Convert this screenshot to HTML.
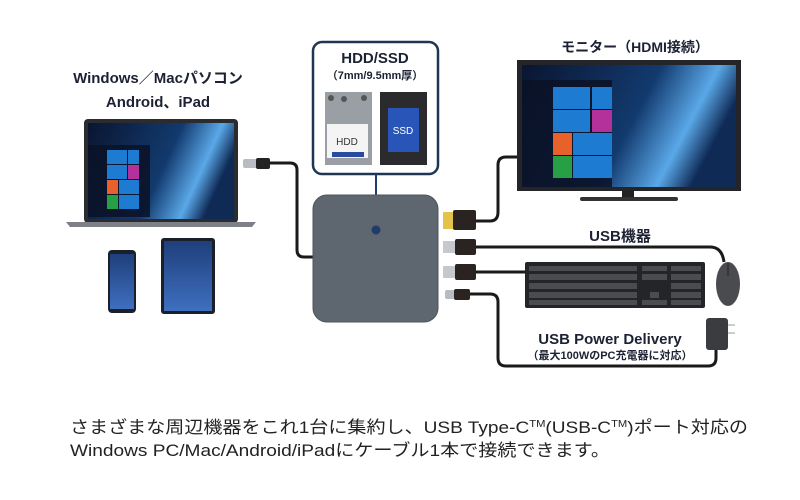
<!DOCTYPE html>
<html><head><meta charset="utf-8"><style>
html,body{margin:0;padding:0;background:#fff;width:800px;height:500px;overflow:hidden}
svg{display:block}
text{font-family:"Liberation Sans","Noto Sans CJK JP",sans-serif}
</style></head><body>
<svg width="800" height="500" viewBox="0 0 800 500" xmlns="http://www.w3.org/2000/svg">
<defs>
<linearGradient id="scr" x1="0" y1="0" x2="1" y2="0.3">
<stop offset="0" stop-color="#0a1530"/><stop offset="0.6" stop-color="#123a6e"/><stop offset="0.85" stop-color="#5aa8e8"/><stop offset="1" stop-color="#0f2a55"/>
</linearGradient>
<linearGradient id="tab" x1="0" y1="0" x2="0" y2="1"><stop offset="0" stop-color="#1e3f7a"/><stop offset="1" stop-color="#3f6fc0"/></linearGradient>
</defs>
<!-- left labels -->
<text x="158" y="83" font-size="15" font-weight="bold" fill="#1c2233" text-anchor="middle">Windows／Macパソコン</text>
<text x="158" y="107" font-size="15" font-weight="bold" fill="#1c2233" text-anchor="middle">Android、iPad</text>
<!-- laptop -->
<rect x="84" y="119" width="154" height="104" rx="4" fill="#2a2c30"/>
<rect x="88" y="123" width="146" height="96" fill="url(#scr)"/>
<rect x="88" y="145" width="62" height="72" fill="#0b1226" opacity="0.85"/>
<g>
<rect x="107" y="150" width="20" height="14" fill="#1e7bd2"/><rect x="128" y="150" width="11" height="14" fill="#1e7bd2"/>
<rect x="107" y="165" width="20" height="14" fill="#1e7bd2"/><rect x="128" y="165" width="11" height="14" fill="#b4309a"/>
<rect x="107" y="180" width="11" height="14" fill="#e8602a"/><rect x="119" y="180" width="20" height="14" fill="#1e7bd2"/>
<rect x="107" y="195" width="11" height="14" fill="#27a045"/><rect x="119" y="195" width="20" height="14" fill="#1e7bd2"/>
</g>
<path d="M66 222 H256 L252 227 H70 Z" fill="#7d8087"/>
<!-- phone & tablet -->
<rect x="108" y="250" width="28" height="63" rx="4" fill="#1b1f2a"/>
<rect x="110" y="254" width="24" height="55" fill="url(#tab)"/>
<rect x="161" y="238" width="54" height="76" rx="3" fill="#1b1f2a"/>
<rect x="164" y="241" width="48" height="70" fill="url(#tab)"/>
<!-- laptop cable -->
<rect x="243" y="159" width="14" height="9" rx="2" fill="#b8bcc2"/>
<rect x="256" y="158" width="14" height="11" rx="2" fill="#222"/>
<path d="M270 163 H290 Q297 163 297 170 V250 Q297 257 304 257 H314" fill="none" stroke="#1a1a1a" stroke-width="3"/>
<!-- HDD/SSD box -->
<rect x="313" y="42" width="125" height="132" rx="9" fill="#fff" stroke="#1f3552" stroke-width="2.5"/>
<text x="375" y="63" font-size="15" font-weight="bold" fill="#1c2233" text-anchor="middle">HDD/SSD</text>
<text x="375" y="79" font-size="11" font-weight="bold" fill="#1c2233" text-anchor="middle">（7mm/9.5mm厚）</text>
<rect x="325" y="92" width="47" height="73" fill="#9a9ea5"/>
<circle cx="331" cy="98" r="3" fill="#555"/><circle cx="344" cy="99" r="3" fill="#555"/><circle cx="364" cy="98" r="3" fill="#555"/>
<rect x="327" y="124" width="41" height="34" fill="#f4f4f4"/>
<rect x="332" y="152" width="32" height="5" fill="#2a4aa0"/>
<text x="347" y="145" font-size="10" fill="#333" text-anchor="middle">HDD</text>
<rect x="380" y="92" width="47" height="73" fill="#2b2b2d"/>
<rect x="388" y="108" width="31" height="44" fill="#2a55b8"/>
<text x="403" y="134" font-size="10" fill="#fff" text-anchor="middle">SSD</text>
<line x1="376" y1="174" x2="376" y2="230" stroke="#1f3c6a" stroke-width="2"/>
<!-- hub -->
<rect x="313" y="195" width="125" height="127" rx="14" fill="#5e6670"/>
<rect x="313" y="195" width="125" height="127" rx="14" fill="none" stroke="#4e555e" stroke-width="1"/>
<circle cx="376" cy="230" r="4.5" fill="#1f3c6a"/>
<!-- plugs -->
<rect x="443" y="212" width="11" height="17" fill="#e5c24a"/><rect x="453" y="210" width="23" height="20" rx="2" fill="#2a2322"/>
<rect x="443" y="241" width="12" height="12" fill="#c5c8cc"/><rect x="455" y="239" width="21" height="16" rx="2" fill="#2a2322"/>
<rect x="443" y="266" width="12" height="12" fill="#c5c8cc"/><rect x="455" y="264" width="21" height="16" rx="2" fill="#2a2322"/>
<rect x="445" y="290" width="10" height="9" rx="2" fill="#b8bcc2"/><rect x="454" y="289" width="16" height="11" rx="2" fill="#2a2322"/>
<!-- cables -->
<g fill="none" stroke="#1a1a1a" stroke-width="3">
<path d="M476 221 H490 Q498 221 498 212 V165 Q498 157 506 157 H518"/>
<path d="M476 247 H710 Q722 247 724 262"/>
<path d="M476 272 H526"/>
<path d="M470 294 H490 Q498 294 498 302 V358 Q498 366 506 366 H708 Q716 366 716 358 V345"/>
</g>
<!-- monitor -->
<text x="635" y="52" font-size="14" font-weight="bold" fill="#1c2233" text-anchor="middle">モニター（HDMI接続）</text>
<rect x="517" y="60" width="224" height="131" fill="#232528"/>
<rect x="522" y="65" width="214" height="122" fill="url(#scr)"/>
<rect x="522" y="80" width="90" height="107" fill="#0b1226" opacity="0.85"/>
<g>
<rect x="553" y="87" width="37" height="22" fill="#1e7bd2"/><rect x="592" y="87" width="20" height="22" fill="#1e7bd2"/>
<rect x="553" y="110" width="37" height="22" fill="#1e7bd2"/><rect x="592" y="110" width="20" height="22" fill="#b4309a"/>
<rect x="553" y="133" width="19" height="22" fill="#e8602a"/><rect x="573" y="133" width="39" height="22" fill="#1e7bd2"/>
<rect x="553" y="156" width="19" height="22" fill="#27a045"/><rect x="573" y="156" width="39" height="22" fill="#1e7bd2"/>
</g>
<rect x="622" y="191" width="12" height="8" fill="#222"/>
<rect x="580" y="197" width="98" height="4" rx="2" fill="#333"/>
<!-- usb labels -->
<text x="620" y="241" font-size="15" font-weight="bold" fill="#1c2233" text-anchor="middle">USB機器</text>
<!-- keyboard -->
<rect x="525" y="262" width="180" height="46" rx="2" fill="#242528"/>
<g fill="#4a4c50">
<rect x="529" y="266" width="108" height="5"/><rect x="642" y="266" width="25" height="5"/><rect x="671" y="266" width="30" height="5"/>
<rect x="529" y="274" width="108" height="6"/><rect x="642" y="274" width="25" height="6"/><rect x="671" y="274" width="30" height="6"/>
<rect x="529" y="283" width="108" height="6"/><rect x="671" y="283" width="30" height="6"/>
<rect x="529" y="292" width="108" height="6"/><rect x="650" y="292" width="9" height="6"/><rect x="671" y="292" width="30" height="6"/>
<rect x="529" y="300" width="108" height="5"/><rect x="642" y="300" width="25" height="5"/><rect x="671" y="300" width="30" height="5"/>
</g>
<!-- mouse -->
<ellipse cx="728" cy="284" rx="12" ry="22" fill="#4a4b4e"/>
<line x1="728" y1="263" x2="728" y2="276" stroke="#222" stroke-width="1"/>
<!-- adapter -->
<rect x="706" y="318" width="22" height="32" rx="3" fill="#3b3c3f"/>
<rect x="728" y="324" width="7" height="2" fill="#ccc"/><rect x="728" y="332" width="7" height="2" fill="#ccc"/>
<text x="610" y="344" font-size="15" font-weight="bold" fill="#1c2233" text-anchor="middle">USB Power Delivery</text>
<text x="610" y="359" font-size="11" font-weight="bold" fill="#1c2233" text-anchor="middle">（最大100WのPC充電器に対応）</text>
<!-- bottom text -->
<text x="70" y="433" font-size="17" fill="#222" textLength="678" lengthAdjust="spacingAndGlyphs">さまざまな周辺機器をこれ1台に集約し、USB Type-C<tspan font-size="10" dy="-6">TM</tspan><tspan dy="6">(USB-C</tspan><tspan font-size="10" dy="-6">TM</tspan><tspan dy="6">)ポート対応の</tspan></text>
<text x="70" y="456" font-size="17" fill="#222" textLength="540" lengthAdjust="spacingAndGlyphs">Windows PC/Mac/Android/iPadにケーブル1本で接続できます。</text>
</svg>
</body></html>
